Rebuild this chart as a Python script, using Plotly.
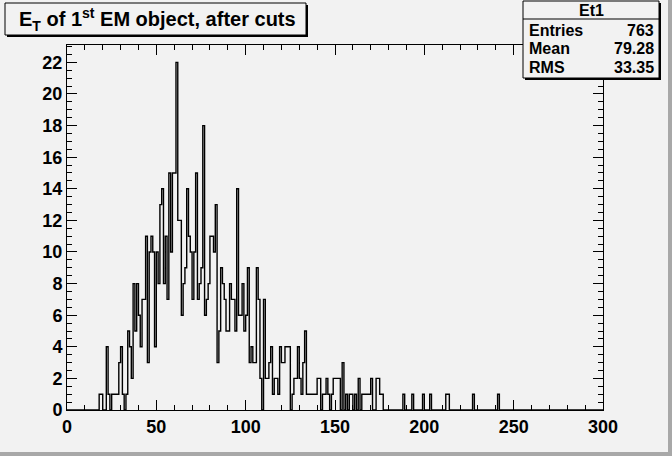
import numpy as np
import plotly.graph_objects as go

# ---- data ----
title_text = "E<sub>T</sub> of 1<sup>st</sup> EM object, after cuts"
hist_name = "Et1"
stats_labels = ["Entries", "Mean", "RMS"]
stats_values = ["763", "79.28", "33.35"]
x_min, x_max, n_bins = 0, 300, 300
x_tick_vals = [0, 50, 100, 150, 200, 250, 300]
y_tick_vals = list(range(0, 23, 2))

et_bins = [18, 19, 22, 23, 25, 26, 27, 28, 29, 30, 31, 33, 34, 35, 36,
           37, 38, 39, 40, 41, 42, 43, 44, 45, 46, 47, 48, 49, 50, 51, 52, 53, 54, 55, 56, 57, 58, 59, 60,
           61, 62, 63, 64, 65, 66, 67, 68, 69, 70, 71, 72, 73, 74, 75, 76, 77, 78, 79, 80, 81, 82, 83,
           84, 85, 86, 87, 88, 89, 90, 91, 92, 93, 94, 95, 96, 97, 98, 99, 100, 101, 102, 103, 104, 105, 106, 107,
           108, 110, 111, 112, 113, 114, 115, 116, 117, 118, 119, 120, 121, 122, 123, 124, 126, 127, 128, 129, 130,
           131, 132, 133, 134, 135, 136, 137, 138, 139, 140, 141, 143, 144, 145, 146, 148, 149, 150, 151, 152, 154,
           156, 158, 159, 161, 163, 165, 166, 167, 168, 169, 170, 173, 174, 175, 176,
           188, 193, 199, 203, 212, 213, 227, 241]
et_counts = [1, 1, 4, 1, 1, 1, 1, 1, 3, 4, 1, 1, 5, 4, 2,
             8, 5, 8, 6, 4, 7, 7, 11, 3, 10, 11, 10, 4, 10, 8, 13, 14, 8, 11, 7, 15, 10, 15, 15,
             22, 12, 12, 6, 8, 9, 14, 11, 10, 7, 10, 15, 7, 8, 9, 18, 6, 7, 8, 11, 11, 10, 13,
             3, 5, 9, 8, 7, 5, 5, 8, 7, 7, 5, 14, 6, 6, 8, 5, 6, 9, 3, 4, 3, 3, 9, 7,
             2, 7, 2, 2, 3, 4, 1, 2, 2, 1, 4, 3, 3, 4, 4, 4, 1, 2, 2, 4, 2,
             1, 3, 5, 1, 1, 1, 1, 1, 1, 2, 2, 1, 1, 2, 1, 1, 2, 2, 2, 2, 3,
             1, 1, 1, 1, 2, 1, 1, 1, 1, 1, 2, 2, 2, 1, 1,
             1, 1, 1, 1, 1, 1, 1, 1]

# ---- build histogram outline ----
counts = np.zeros(n_bins)
for b, c in zip(et_bins, et_counts):
    counts[b] = c
edges = np.linspace(x_min, x_max, n_bins + 1)
ys = np.append(counts, counts[-1])
y_max = 1.05 * counts.max()

W, H = 672, 456
L, R, T, B = 67, 69, 45, 46
PW, PH = W - L - R, H - T - B
BG = "#f2f2f2"
FONT = "Liberation Sans"


def px(x):
    return (x - L) / PW


def py(y):
    return (H - B - y) / PH


fig = go.Figure()
fig.add_trace(go.Scatter(x=edges, y=ys, mode="lines",
                         line=dict(shape="hv", color="black", width=1.4),
                         hoverinfo="skip", showlegend=False))

shapes = []
# canvas bevel (right & bottom)
shapes.append(dict(type="rect", xref="paper", yref="paper", x0=px(668), x1=px(673),
                   y0=py(457), y1=py(-1), fillcolor="#a8a8a8", line=dict(width=0)))
shapes.append(dict(type="rect", xref="paper", yref="paper", x0=px(-1), x1=px(673),
                   y0=py(457), y1=py(452), fillcolor="#a8a8a8", line=dict(width=0)))
# title box with shadow
shapes.append(dict(type="rect", xref="paper", yref="paper", x0=px(7), x1=px(308),
                   y0=py(37), y1=py(5), fillcolor="black", line=dict(width=0)))
shapes.append(dict(type="rect", xref="paper", yref="paper", x0=px(5), x1=px(306),
                   y0=py(35), y1=py(3), fillcolor=BG, line=dict(color="black", width=1)))
# stats box with shadow
shapes.append(dict(type="rect", xref="paper", yref="paper", x0=px(525), x1=px(661),
                   y0=py(80), y1=py(3), fillcolor="black", line=dict(width=0)))
shapes.append(dict(type="rect", xref="paper", yref="paper", x0=px(523), x1=px(659),
                   y0=py(78), y1=py(1), fillcolor=BG, line=dict(color="black", width=1)))
shapes.append(dict(type="line", xref="paper", yref="paper", x0=px(523), x1=px(659),
                   y0=py(19), y1=py(19), line=dict(color="black", width=1)))

annotations = [
    dict(text=title_text, xref="paper", yref="paper", x=px(17), y=py(20),
         xanchor="left", yanchor="middle", showarrow=False,
         font=dict(family=FONT, size=20, color="black", weight="bold")),
    dict(text=hist_name, xref="paper", yref="paper", x=px(591), y=py(10),
         xanchor="center", yanchor="middle", showarrow=False,
         font=dict(family=FONT, size=16, color="black", weight="bold")),
]
row_y = [30, 49, 68]
for lab, val, yy in zip(stats_labels, stats_values, row_y):
    annotations.append(dict(text=lab, xref="paper", yref="paper", x=px(527), y=py(yy),
                            xanchor="left", yanchor="middle", showarrow=False,
                            font=dict(family=FONT, size=16, color="black", weight="bold")))
    annotations.append(dict(text=val, xref="paper", yref="paper", x=px(656), y=py(yy),
                            xanchor="right", yanchor="middle", showarrow=False,
                            font=dict(family=FONT, size=16, color="black", weight="bold")))

axis_font = dict(family=FONT, size=18, color="black", weight="bold")
fig.update_layout(
    width=W, height=H, autosize=False,
    margin=dict(l=L, r=R, t=T, b=B, pad=0),
    paper_bgcolor=BG, plot_bgcolor=BG,
    shapes=shapes, annotations=annotations,
    xaxis=dict(range=[x_min, x_max], tickvals=x_tick_vals, ticks="inside", ticklen=10,
               tickcolor="black", showline=True, linecolor="black", linewidth=1,
               mirror="ticks", showgrid=False, zeroline=False, tickfont=axis_font,
               minor=dict(dtick=10, ticks="inside", ticklen=5, tickcolor="black", showgrid=False)),
    yaxis=dict(range=[0, y_max], tickvals=y_tick_vals, ticks="inside", ticklen=10,
               tickcolor="black", showline=True, linecolor="black", linewidth=1,
               mirror="ticks", showgrid=False, zeroline=False, tickfont=axis_font,
               minor=dict(dtick=0.5, ticks="inside", ticklen=5, tickcolor="black", showgrid=False)),
)

fig.write_html("out.html", config={"displayModeBar": False},
               post_script="document.body.style.margin='0';document.body.style.padding='0';")
